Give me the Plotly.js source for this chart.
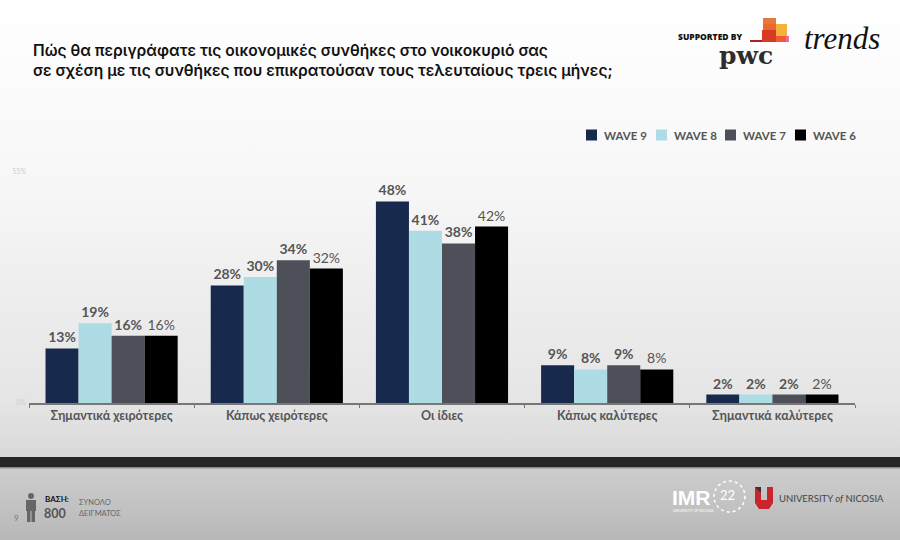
<!DOCTYPE html>
<html>
<head>
<meta charset="utf-8">
<script src="https://cdn.plot.ly/plotly-3.0.1.min.js"></script>
<style>
html,body{margin:0;padding:0;}
body{width:900px;height:540px;overflow:hidden;
background:linear-gradient(to bottom,#ffffff 0px,#f7f7f7 180px,#e5e5e5 400px,#d9d9d9 457px,#262626 457px,#262626 467px,#8a8a8a 467px,#8a8a8a 468px,#cdcdcd 469px,#b8b8b8 540px);}
#chart{width:900px;height:540px;}
</style>
</head>
<body>
<div id="chart"></div>
<script>
const categories = ["Σημαντικά χειρότερες","Κάπως χειρότερες","Οι ίδιες","Κάπως καλύτερες","Σημαντικά καλύτερες"];
const seriesNames = ["WAVE 9","WAVE 8","WAVE 7","WAVE 6"];
const wave9 = [13, 28, 48, 9, 2];
const wave8 = [19, 30, 41, 8, 2];
const wave7 = [16, 34, 38, 9, 2];
const wave6 = [16, 32, 42, 8, 2];
const yTickVals = [0, 55];
const yTickText = ["0%", "55%"];

const colors = ["#17294d","#aedce4","#4d5059","#000000"];
const weights = ["bold","bold","bold","normal"];
const allSeries = [wave9, wave8, wave7, wave6];

const traces = allSeries.map((vals, i) => ({
  type: "bar",
  name: seriesNames[i],
  x: categories,
  y: vals,
  text: vals.map(v => v + "%"),
  textposition: "outside",
  cliponaxis: false,
  textfont: {family: "Lato, 'DejaVu Sans', sans-serif", size: 14, color: "#555555", weight: weights[i]},
  marker: {color: colors[i], line: {width: 0}},
  hoverinfo: "skip"
}));

// plot area in pixels
const L = 29, R = 855, T = 172, B = 403;
function px(x){ return (x - L) / (R - L); }
function py(y){ return (B - y) / (B - T); }

function ann(text, x, y, opts){
  return Object.assign({
    text: text, xref: "paper", yref: "paper", x: px(x), y: py(y),
    xanchor: "left", yanchor: "middle", showarrow: false, borderpad: 0,
    font: {family: "Lato, sans-serif", size: 9, color: "#555"}
  }, opts || {});
}
function rect(x0, y0, x1, y1, color, extra){
  return Object.assign({
    type: "rect", xref: "paper", yref: "paper",
    x0: px(x0), x1: px(x1), y0: py(y1), y1: py(y0),
    fillcolor: color, line: {width: 0}, layer: "above"
  }, extra || {});
}

const annotations = [
  ann("Πώς θα περιγράφατε τις οικονομικές συνθήκες στο νοικοκυριό σας<br>σε σχέση με τις συνθήκες που επικρατούσαν τους τελευταίους τρεις μήνες;", 32, 61,
      {font: {family: "Inter, 'Noto Sans', sans-serif", size: 15.6, color: "#111", weight: 600}, align: "left"}),
  ann("SUPPORTED BY", 677, 36, {font: {family: "'Open Sans', sans-serif", size: 8.5, color: "#111", weight: 800}}),
  ann("pwc", 718, 56, {font: {family: "'DejaVu Serif', serif", size: 25, color: "#2d2d2d", weight: "bold"}}),
  ann("<i>trends</i>", 803, 38, {font: {family: "'Liberation Serif', serif", size: 31, color: "#111"}}),
  ann("ΒΑΣΗ:", 44, 499, {font: {family: "Lato, sans-serif", size: 8, color: "#111", weight: "bold"}}),
  ann("800", 43, 513, {font: {family: "Lato, sans-serif", size: 12.5, color: "#555", weight: "bold"}}),
  ann("ΣΥΝΟΛΟ", 78, 502, {font: {family: "Lato, sans-serif", size: 7.5, color: "#666"}}),
  ann("ΔΕΙΓΜΑΤΟΣ", 78, 513, {font: {family: "Lato, sans-serif", size: 7.5, color: "#666"}}),
  ann("9", 13, 518, {font: {family: "Lato, sans-serif", size: 8, color: "#777"}}),
  ann("IMR", 671, 497, {font: {family: "'Liberation Sans Narrow', 'Liberation Sans', sans-serif", size: 21, color: "#ffffff", weight: "bold"}}),
  ann("UNIVERSITY OF NICOSIA", 672, 511, {font: {family: "Lato, sans-serif", size: 3.5, color: "#ffffff"}}),
  ann("22", 719, 495, {font: {family: "Lato, sans-serif", size: 13, color: "#ffffff"}}),
  ann("UNIVERSITY <i>of</i> NICOSIA", 778, 498, {font: {family: "Lato, sans-serif", size: 9.5, color: "#444"}})
];

// manual legend (names from seriesNames, colours from palette)
const legendX = [586, 656, 725, 795];
seriesNames.forEach((n, i) => {
  annotations.push(ann(n, legendX[i] + 17, 135, {font: {family: "Lato, sans-serif", size: 11.5, color: "#555", weight: "bold"}}));
});

const shapes = [
  // person icon
  {type: "circle", xref: "paper", yref: "paper", x0: px(28), x1: px(34), y0: py(499), y1: py(493), fillcolor: "#666", line: {width: 0}, layer: "above"},
  rect(26, 500, 36, 511, "#666"),
  rect(27, 510, 30.5, 522, "#666"),
  rect(31.5, 510, 35, 522, "#666"),
  // pwc blocks
  rect(763, 18, 776, 24, "#e8783a"),
  rect(763, 24, 780, 30, "#e86a2e"),
  rect(776, 24, 787, 36, "#f4b23a"),
  rect(762, 30, 776, 42, "#d93a22"),
  rect(776, 36, 786, 42, "#ee5a3a"),
  rect(786, 36, 789, 42, "#ef6aa0"),
  rect(750, 40, 762, 42, "#b02020"),
  // laurel ring
  {type: "circle", xref: "paper", yref: "paper", x0: px(714), x1: px(745), y0: py(512), y1: py(481), fillcolor: "rgba(0,0,0,0)", line: {color: "#ffffff", width: 1.5, dash: "dot"}, layer: "above"},
  // University of Nicosia shield
  {type: "path", xref: "paper", yref: "paper", layer: "above",
   path: (function(){
     const pts = [[755,487],[761,487],[761,500],[767,500],[767,487],[773,487],[773,503],[769,509],[759,509],[755,503]];
     return "M" + pts.map(p => px(p[0]) + "," + py(p[1])).join("L") + "Z";
   })(),
   fillcolor: "#c8262c", line: {width: 0}},
  {type: "path", xref: "paper", yref: "paper", layer: "above",
   path: "M" + px(755) + "," + py(487) + "L" + px(761) + "," + py(487) + "L" + px(761) + "," + py(493) + "Z",
   fillcolor: "#333", line: {width: 0}}
];
legendX.forEach((x, i) => shapes.push(rect(x, 129.5, x + 11, 140.5, colors[i])));

const layout = {
  width: 900, height: 540,
  paper_bgcolor: "rgba(0,0,0,0)", plot_bgcolor: "rgba(0,0,0,0)",
  margin: {l: L, r: 900 - R, t: T, b: 540 - B, pad: 0},
  barmode: "group", bargap: 0.2, bargroupgap: 0,
  showlegend: false,
  xaxis: {type: "category", showline: true, linecolor: "#777", linewidth: 1.5,
          ticks: "outside", tickson: "boundaries", ticklen: 3, tickcolor: "#777",
          tickfont: {family: "Lato, sans-serif", size: 12.5, color: "#555", weight: "bold"},
          showgrid: false, fixedrange: true},
  yaxis: {range: [0, 55], tickvals: yTickVals, ticktext: yTickText, showgrid: true, gridcolor: "#999", gridwidth: 1.5,
          zeroline: false, showline: false, ticks: "", tickfont: {family: "Lato, sans-serif", size: 7, color: "#cfcfcf"},
          ticklabelstandoff: 2, fixedrange: true},
  annotations: annotations,
  shapes: shapes
};

Plotly.newPlot("chart", traces, layout, {displayModeBar: false, staticPlot: true});
</script>
</body>
</html>
